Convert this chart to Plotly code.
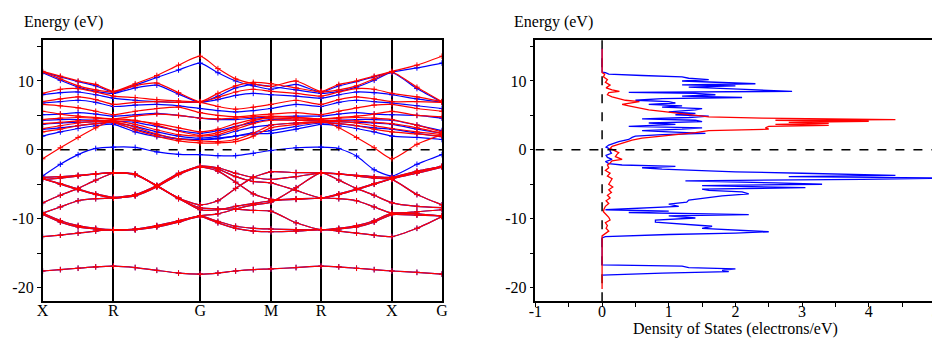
import plotly.graph_objects as go

# ---------------- data ----------------
HS_LABELS = ["X", "R", "G", "M", "R", "X", "G"]
HS_POS = [0.0, 0.707, 1.573, 2.280, 2.780, 3.487, 3.987]
K = [0.0, 0.177, 0.354, 0.530, 0.707, 0.924, 1.140, 1.357, 1.573, 1.750, 1.927,
     2.103, 2.280, 2.530, 2.780, 2.957, 3.134, 3.310, 3.487, 3.737, 3.987]

# valence bands (both spin channels nearly degenerate)
VAL_BANDS = [
    [-17.6, -17.4, -17.2, -17.0, -16.9, -17.1, -17.5, -17.9, -18.05, -17.9, -17.6, -17.4, -17.3, -17.1, -16.9, -17.0, -17.2, -17.4, -17.6, -17.8, -18.05],
    [-4.0, -3.9, -3.7, -3.5, -3.3, -3.6, -5.2, -7.0, -8.0, -7.4, -5.6, -4.0, -3.2, -3.3, -3.35, -3.5, -3.7, -3.9, -4.0, -3.1, -2.4],
    [-4.3, -4.1, -3.8, -3.5, -3.35, -3.6, -5.2, -7.1, -8.4, -8.6, -8.6, -8.8, -8.9, -10.6, -11.6, -11.4, -11.0, -10.3, -9.2, -9.3, -9.6],
    [-7.7, -6.6, -5.6, -4.4, -3.4, -3.5, -5.3, -7.0, -8.7, -8.7, -8.2, -7.8, -7.4, -7.2, -7.0, -6.5, -5.8, -5.0, -4.2, -3.2, -2.4],
    [-4.2, -5.0, -5.8, -6.5, -7.0, -6.6, -5.3, -3.5, -2.4, -2.6, -3.4, -4.0, -4.3, -3.9, -3.35, -3.5, -3.8, -4.1, -4.3, -6.5, -8.0],
    [-4.2, -4.9, -5.7, -6.4, -6.9, -6.5, -5.2, -3.4, -2.4, -2.8, -3.9, -4.6, -4.8, -5.9, -7.0, -6.4, -5.7, -4.9, -4.2, -3.4, -2.5],
    [-9.2, -8.3, -7.4, -7.1, -7.0, -6.7, -5.4, -3.6, -2.5, -3.1, -4.7, -6.4, -7.2, -7.1, -7.0, -7.1, -7.4, -8.3, -9.2, -9.0, -8.7],
    [-9.2, -10.3, -11.0, -11.4, -11.6, -11.5, -11.0, -10.3, -9.6, -9.3, -8.6, -8.0, -7.6, -5.5, -3.35, -4.4, -5.6, -6.6, -7.7, -8.2, -8.4],
    [-9.4, -10.5, -11.2, -11.5, -11.7, -11.6, -11.1, -10.4, -9.6, -10.4, -11.1, -11.4, -11.5, -11.6, -11.6, -11.5, -11.2, -10.5, -9.4, -9.5, -9.6],
    [-12.6, -12.4, -12.1, -11.8, -11.6, -11.6, -11.2, -10.5, -9.7, -10.6, -11.4, -11.8, -11.9, -11.8, -11.6, -11.8, -12.1, -12.4, -12.6, -11.4, -9.7],
]

# spin-up (red) bands near / above the Fermi level
RED_BANDS = [
    [-1.3, 0.3, 1.8, 3.2, 4.4, 4.3, 3.6, 2.7, 2.1, 2.5, 3.3, 4.2, 4.8, 4.7, 4.4, 3.2, 1.8, 0.3, -1.3, 0.8, 2.2],
    [11.4, 10.7, 10.0, 9.5, 8.5, 9.6, 10.8, 12.3, 13.6, 11.8, 10.3, 9.6, 9.2, 10.0, 8.5, 9.5, 10.0, 10.7, 11.4, 12.3, 13.6],
    [11.3, 10.3, 9.3, 8.7, 8.4, 9.3, 9.7, 8.3, 7.0, 8.2, 9.3, 9.8, 9.6, 9.0, 8.4, 8.7, 9.3, 10.3, 11.3, 9.1, 7.0],
    [8.2, 8.8, 8.9, 8.4, 7.8, 7.6, 7.3, 7.1, 7.0, 7.6, 8.4, 8.8, 8.5, 8.2, 7.8, 8.4, 8.9, 8.8, 8.2, 7.7, 7.0],
    [7.0, 7.4, 7.7, 7.3, 6.6, 6.9, 7.0, 6.9, 6.9, 6.3, 5.9, 6.2, 6.6, 7.2, 6.6, 7.3, 7.7, 7.4, 7.0, 7.0, 6.9],
    [6.6, 6.4, 6.1, 5.6, 5.1, 5.6, 6.0, 6.2, 5.4, 5.0, 4.8, 5.0, 5.2, 5.4, 5.1, 5.6, 6.1, 6.5, 6.6, 6.0, 5.6],
    [5.6, 5.2, 4.9, 4.7, 4.5, 4.9, 5.2, 5.0, 4.6, 4.5, 4.6, 4.8, 4.9, 4.7, 4.5, 4.7, 4.9, 5.2, 5.6, 5.0, 4.8],
    [4.4, 4.6, 4.7, 4.6, 4.4, 4.2, 3.8, 3.2, 2.6, 3.0, 3.8, 4.4, 4.6, 4.5, 4.4, 4.6, 4.7, 4.6, 4.4, 3.6, 2.6],
    [3.8, 4.0, 4.2, 4.3, 4.2, 3.7, 2.9, 2.2, 2.0, 2.2, 3.0, 3.8, 4.3, 4.3, 4.2, 4.3, 4.2, 4.0, 3.8, 3.2, 2.4],
    [3.1, 3.5, 3.9, 4.1, 4.1, 3.3, 2.3, 1.6, 1.3, 1.2, 1.5, 2.4, 3.6, 3.9, 4.1, 4.1, 3.9, 3.5, 3.1, 2.6, 2.2],
    [2.6, 3.0, 3.5, 3.8, 4.0, 2.9, 2.0, 1.3, 1.0, 1.0, 1.2, 2.0, 3.2, 3.7, 4.0, 3.8, 3.5, 3.0, 2.6, 2.3, 2.0],
]

# spin-down (blue) bands near / above the Fermi level
BLUE_BANDS = [
    [-3.8, -2.1, -0.7, 0.2, 0.39, 0.35, -0.3, -0.65, -0.7, -0.85, -0.85, -0.5, -0.1, 0.3, 0.39, 0.2, -0.9, -2.9, -3.8, -2.1, -0.7],
    [11.3, 10.6, 9.9, 9.3, 8.4, 9.4, 10.5, 11.6, 12.6, 11.2, 10.0, 9.3, 8.8, 9.5, 8.4, 9.3, 9.9, 10.6, 11.3, 11.9, 12.6],
    [11.2, 10.1, 9.1, 8.5, 8.2, 9.0, 9.4, 8.1, 6.9, 7.8, 9.0, 9.5, 9.2, 8.7, 8.2, 8.5, 9.1, 10.1, 11.2, 8.9, 6.9],
    [8.0, 8.3, 8.4, 8.0, 7.5, 7.2, 7.0, 6.9, 6.9, 7.3, 7.9, 8.2, 8.0, 7.8, 7.5, 8.0, 8.4, 8.3, 8.0, 7.4, 6.9],
    [6.8, 7.0, 7.2, 6.9, 6.3, 6.5, 6.6, 6.4, 6.0, 5.7, 5.5, 5.7, 6.0, 6.6, 6.3, 6.9, 7.2, 7.0, 6.8, 6.4, 6.0],
    [5.1, 5.2, 5.4, 5.2, 4.9, 5.1, 5.3, 5.0, 4.6, 4.4, 4.4, 4.6, 4.8, 4.9, 4.9, 5.2, 5.4, 5.2, 5.1, 5.0, 4.6],
    [4.3, 4.4, 4.4, 4.3, 4.2, 4.0, 3.4, 2.8, 2.4, 2.8, 3.4, 4.0, 4.4, 4.3, 4.2, 4.3, 4.4, 4.4, 4.3, 3.6, 2.8],
    [3.7, 3.9, 4.0, 4.1, 4.0, 3.4, 2.6, 2.0, 1.7, 2.0, 2.7, 3.3, 3.6, 3.9, 4.0, 4.1, 4.0, 3.9, 3.7, 3.0, 2.4],
    [3.0, 3.2, 3.5, 3.8, 3.9, 3.0, 2.2, 1.6, 1.5, 1.6, 2.0, 2.5, 2.8, 3.4, 3.9, 3.8, 3.5, 3.2, 3.0, 2.4, 1.9],
    [2.0, 2.6, 3.1, 3.5, 3.7, 2.6, 1.9, 1.6, 1.5, 1.7, 2.0, 2.3, 2.4, 3.0, 3.7, 3.5, 3.1, 2.6, 2.0, 1.8, 1.5],
]

# density of states (energy, DOS)
DOS_BLUE_E = [14.7, 11.3, 11.2, 11.0, 10.8, 10.6, 10.4, 10.2, 10.0, 9.8, 9.6, 9.45, 9.3, 9.1, 8.9, 8.7, 8.5, 8.35, 8.2, 8.0,
              7.8, 7.6, 7.45, 7.2, 7.0, 6.8, 6.6, 6.4, 6.2, 6.0, 5.8, 5.5, 5.3, 5.1, 4.9, 4.7, 4.5, 4.3, 4.1, 3.9,
              3.7, 3.4, 3.2, 3.0, 2.8, 2.6, 2.4, 2.2, 2.0, 1.8, 1.5, 1.2, 1.0, 0.7, 0.4, 0.1, -0.2, -0.5, -0.8, -1.1,
              -1.4, -1.7, -2.0, -2.2, -2.4, -2.6, -2.8, -3.0, -3.2, -3.4, -3.7, -3.9, -4.1, -4.3, -4.5, -4.8, -5.0, -5.2, -5.5, -5.7,
              -5.9, -6.1, -6.4, -6.7, -7.0, -7.3, -7.6, -7.9, -8.2, -8.5, -8.7, -8.9, -9.1, -9.4, -9.6, -9.9, -10.2, -10.5, -10.8, -11.1,
              -11.4, -11.7, -11.9, -12.1, -12.3, -12.6, -12.8, -16.7, -16.9, -17.1, -17.3, -17.5, -17.7, -17.9, -18.1, -18.2]
DOS_BLUE = [0.0, 0.0, 0.05, 0.1, 0.6, 1.2, 1.3, 1.6, 1.2, 1.9, 2.3, 1.2, 2.0, 1.3, 1.8, 2.2, 2.85, 0.4, 1.4, 1.7,
            1.2, 2.1, 0.9, 0.5, 1.0, 1.1, 0.7, 1.2, 0.9, 1.5, 1.4, 1.0, 1.4, 1.1, 1.6, 1.3, 0.6, 1.4, 1.5, 0.7,
            1.1, 0.4, 1.5, 1.2, 0.6, 1.0, 1.55, 0.9, 0.5, 0.45, 0.4, 0.25, 0.2, 0.1, 0.06, 0.12, 0.12, 0.14, 0.06, 0.08,
            0.15, 0.05, 0.1, 0.3, 1.1, 0.6, 0.9, 1.5, 2.0, 3.0, 4.4, 2.8, 5.3, 3.9, 1.25, 2.6, 3.3, 1.5, 3.05, 1.5,
            1.6, 2.1, 2.2, 1.8, 1.5, 1.3, 1.27, 1.0, 1.15, 0.4, 0.05, 1.0, 0.4, 2.2, 1.0, 1.4, 0.8, 0.8, 1.2, 1.65,
            1.5, 2.0, 2.5, 2.0, 1.0, 0.05, 0.0, 0.0, 1.2, 1.3, 2.0, 1.8, 1.9, 0.9, 0.3, 0.0]

DOS_RED_E = [14.7, 11.2, 11.0, 10.6, 10.2, 9.8, 9.4, 9.0, 8.7, 8.5, 8.3, 8.0, 7.7, 7.4, 7.2, 7.0, 6.8, 6.6, 6.4, 6.2,
             6.0, 5.8, 5.6, 5.4, 5.2, 5.0, 4.8, 4.6, 4.4, 4.3, 4.15, 4.0, 3.85, 3.7, 3.55, 3.4, 3.2, 3.0, 2.8, 2.5,
             2.3, 2.0, 1.7, 1.4, 1.1, 0.8, 0.5, 0.2, -0.1, -0.4, -0.7, -1.0, -1.4, -1.6, -1.9, -2.2, -2.6, -3.0, -3.4, -3.8,
             -4.2, -4.6, -5.0, -5.4, -5.8, -6.2, -6.6, -7.0, -7.4, -7.8, -8.2, -8.6, -9.0, -9.4, -9.8, -10.2, -10.6, -11.0, -11.4, -11.8,
             -12.2, -12.5, -20.2]
DOS_RED = [0.0, 0.0, 0.04, 0.02, 0.08, 0.05, 0.12, 0.06, 0.15, 0.26, 0.1, 0.08, 0.15, 0.3, 0.35, 0.56, 0.4, 0.3, 0.4, 0.5,
           0.55, 0.7, 0.9, 1.1, 1.3, 1.5, 1.6, 2.4, 4.4, 2.6, 4.0, 2.8, 3.4, 2.6, 3.4, 2.5, 2.45, 2.5, 1.6, 1.4,
           1.2, 0.9, 0.6, 0.45, 0.35, 0.25, 0.15, 0.12, 0.2, 0.25, 0.22, 0.2, 0.3, 0.15, 0.12, 0.08, 0.1, 0.05, 0.12, 0.08,
           0.15, 0.12, 0.1, 0.16, 0.1, 0.14, 0.08, 0.12, 0.06, 0.1, 0.05, 0.03, 0.02, 0.06, 0.1, 0.12, 0.05, 0.08, 0.06, 0.1,
           0.05, 0.0, 0.0]

Y_TICKS = [-20, -15, -10, -5, 0, 5, 10, 15]
Y_TICKTEXT = ["-20", "", "-10", "", "0", "", "10", ""]
DOS_TICKS = [-1, -0.5, 0, 0.5, 1, 1.5, 2, 2.5, 3, 3.5, 4, 4.5, 5]
DOS_TICKTEXT = ["-1", "", "0", "", "1", "", "2", "", "3", "", "4", "", "5"]

BLUE = "#0000ff"
RED = "#ff0000"
FONT = "Liberation Serif"

fig = go.Figure()


def add_band(y, color):
    fig.add_trace(go.Scatter(
        x=K, y=y, xaxis="x", yaxis="y", mode="lines+markers",
        line=dict(color=color, width=1.2, shape="spline", smoothing=0.6),
        marker=dict(symbol="cross-thin", size=4, line=dict(color=color, width=1)),
        hoverinfo="skip", showlegend=False))


for b in VAL_BANDS + BLUE_BANDS:
    add_band(b, BLUE)
for b in VAL_BANDS + RED_BANDS:
    add_band(b, RED)

fig.add_trace(go.Scatter(x=DOS_BLUE, y=DOS_BLUE_E, xaxis="x2", yaxis="y2", mode="lines",
                         line=dict(color=BLUE, width=1.3), showlegend=False, hoverinfo="skip"))
fig.add_trace(go.Scatter(x=DOS_RED, y=DOS_RED_E, xaxis="x2", yaxis="y2", mode="lines",
                         line=dict(color=RED, width=1.3), showlegend=False, hoverinfo="skip"))

axis_common = dict(showline=True, linecolor="black", linewidth=1.5, mirror=True,
                   zeroline=False, tickfont=dict(family=FONT, size=16, color="black"))

fig.update_layout(
    width=940, height=340,
    margin=dict(l=0, r=0, t=0, b=0),
    paper_bgcolor="white", plot_bgcolor="white",
    font=dict(family=FONT, size=16, color="black"),
    xaxis=dict(domain=[0.0298, 0.4606], range=[HS_POS[0], HS_POS[-1]], anchor="y",
               tickmode="array", tickvals=HS_POS, ticktext=HS_LABELS, ticks="",
               ticklabelstandoff=-6,
               showgrid=True, gridcolor="black", gridwidth=1.5, **axis_common),
    yaxis=dict(domain=[0.1374, 0.9068], range=[-22, 16], anchor="x",
               tickmode="array", tickvals=Y_TICKS, ticktext=Y_TICKTEXT,
               ticks="outside", ticklen=4, tickcolor="black", showgrid=False, **axis_common),
    xaxis2=dict(domain=[0.5614, 0.9929], range=[-1, 5], anchor="y2",
                tickmode="array", tickvals=DOS_TICKS, ticktext=DOS_TICKTEXT,
                ticks="outside", ticklen=4, tickcolor="black", showgrid=False,
                ticklabelstandoff=-9,
                title=dict(text="Density of States (electrons/eV)", standoff=0,
                           font=dict(family=FONT, size=16, color="black")),
                **axis_common),
    yaxis2=dict(domain=[0.1374, 0.9068], range=[-22, 16], anchor="x2",
                tickmode="array", tickvals=Y_TICKS, ticktext=Y_TICKTEXT,
                ticks="outside", ticklen=4, tickcolor="black", showgrid=False, **axis_common),
    shapes=[
        dict(type="line", xref="x", yref="y", x0=HS_POS[0], x1=HS_POS[-1], y0=0, y1=0,
             line=dict(color="black", width=1.5, dash="dash"), layer="above"),
        dict(type="line", xref="x2", yref="y2", x0=-1, x1=5, y0=0, y1=0,
             line=dict(color="black", width=1.5, dash="dash"), layer="above"),
        dict(type="line", xref="x2", yref="y2", x0=0, x1=0, y0=-22, y1=16,
             line=dict(color="black", width=1.5, dash="dash"), layer="below"),
    ],
    annotations=[
        dict(text="Energy (eV)", xref="paper", yref="paper", x=7 / 940, y=1 - 14 / 340,
             xanchor="left", yanchor="middle", showarrow=False,
             font=dict(family=FONT, size=16, color="black")),
        dict(text="Energy (eV)", xref="paper", yref="paper", x=504 / 940, y=1 - 14 / 340,
             xanchor="left", yanchor="middle", showarrow=False,
             font=dict(family=FONT, size=16, color="black")),
    ],
)

fig.write_html("out.html")
